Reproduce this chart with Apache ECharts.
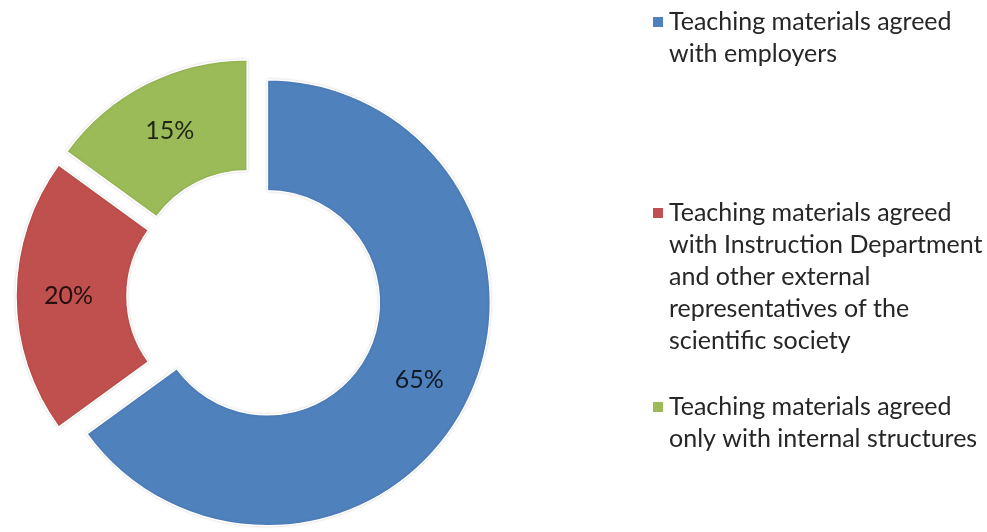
<!DOCTYPE html>
<html>
<head>
<meta charset="utf-8">
<script src="https://cdn.jsdelivr.net/npm/echarts@6/dist/echarts.min.js"></script>
<style>html,body{margin:0;padding:0;background:#fff;}#c{width:987px;height:532px;}</style>
</head>
<body>
<div id="c"></div>
<script>
const categories = [
  'Teaching materials agreed\nwith employers',
  'Teaching materials agreed\nwith Instruction Department\nand other external\nrepresentatives of the\nscientific society',
  'Teaching materials agreed\nonly with internal structures'
];
const values = [65, 20, 15];
const colors = ['#4F81BD', '#C0504D', '#9BBB59'];
const legendTops = [-26, 69, 359];

const LH = 32;
const FONT = 'Lato';

const chart = echarts.init(document.getElementById('c'), null, {renderer: 'canvas'});

const legends = categories.map((name, i) => {
  return {
    orient: 'vertical',
    left: 651,
    top: legendTops[i],
    padding: 0,
    icon: 'rect',
    itemWidth: 12,
    itemHeight: 12,
    selectedMode: false,
    data: [name],
    formatter: function (nm) {
      return '\n'.repeat(nm.split('\n').length - 1) + nm;
    },
    textStyle: {
      fontFamily: FONT,
      fontSize: 25,
      color: '#262626',
      lineHeight: LH
    }
  };
});

chart.setOption({
  animation: false,
  color: colors,
  legend: legends,
  series: [{
    type: 'pie',
    center: [254, 296],
    radius: [112, 223],
    startAngle: 90,
    clockwise: true,
    selectedMode: 'multiple',
    selectedOffset: 15,
    avoidLabelOverlap: false,
    label: {
      show: true,
      position: 'inside',
      formatter: '{d}%',
      fontFamily: FONT,
      fontSize: 25,
      color: 'rgba(0,0,0,0.8)'
    },
    labelLine: {show: false},
    itemStyle: {
      borderColor: '#ffffff',
      borderWidth: 1.5,
      shadowColor: 'rgba(0,0,0,0.15)',
      shadowBlur: 3
    },
    emphasis: {disabled: true},
    select: {itemStyle: {borderColor: '#ffffff', borderWidth: 1.5}},
    data: categories.map((name, i) => ({name: name, value: values[i], selected: true}))
  }]
});
</script>
</body>
</html>
